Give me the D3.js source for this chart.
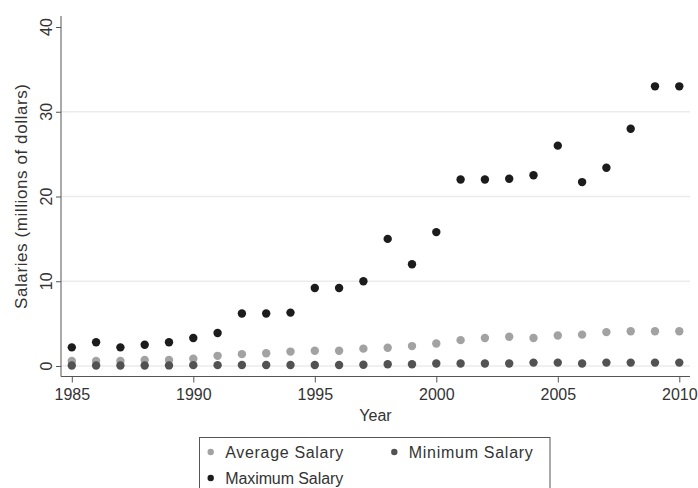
<!DOCTYPE html>
<html>
<head>
<meta charset="utf-8">
<script src="https://cdn.jsdelivr.net/npm/d3@7"></script>
<style>
  html, body { margin: 0; padding: 0; background: #fff; }
  svg { display: block; font-family: "Liberation Sans", Arial, sans-serif; }
</style>
</head>
<body>
<svg id="chart" width="698" height="488"></svg>
<script>
// Player salaries by season, millions of dollars
const years = d3.range(1985, 2011);
const avgSalary = [0.6, 0.6, 0.6, 0.7, 0.7, 0.85, 1.2, 1.4, 1.5, 1.7, 1.8, 1.8, 2.05,
                   2.15, 2.35, 2.65, 3.05, 3.3, 3.45, 3.3, 3.6, 3.7, 4.0, 4.1, 4.1, 4.1];
const minSalary = [0.06, 0.06, 0.06, 0.06, 0.07, 0.1, 0.1, 0.11, 0.11, 0.11, 0.11, 0.11, 0.15,
                   0.2, 0.2, 0.3, 0.3, 0.3, 0.3, 0.4, 0.4, 0.3, 0.4, 0.4, 0.4, 0.4];
const maxSalary = [2.2, 2.8, 2.2, 2.5, 2.8, 3.3, 3.9, 6.2, 6.2, 6.3, 9.2, 9.2, 10.0,
                   15.0, 12.0, 15.8, 22.0, 22.0, 22.1, 22.5, 26.0, 21.7, 23.4, 28.0, 33.0, 33.0];
const xTicks = [1985, 1990, 1995, 2000, 2005, 2010];
const yTicks = [0, 10, 20, 30, 40];
const yGrid = [0, 10, 20, 30];

const series = [
  { name: "Average Salary", values: avgSalary, color: "#a2a2a2" },
  { name: "Minimum Salary", values: minSalary, color: "#525252" },
  { name: "Maximum Salary", values: maxSalary, color: "#1c1c1c" }
];

const svg = d3.select("#chart");
const textColor = "#333";
const axisColor = "#555";

const x = d3.scaleLinear().domain([1985, 2010]).range([71.8, 679.3]);
const y = d3.scaleLinear().domain([0, 40]).range([366, 27]);

const axisX0 = 61, axisX1 = 690, axisYTop = 16, axisYBottom = 376.5;

// horizontal grid
svg.append("g").selectAll("line").data(yGrid).join("line")
  .attr("x1", axisX0).attr("x2", axisX1)
  .attr("y1", d => y(d)).attr("y2", d => y(d))
  .attr("stroke", "#ebebeb").attr("stroke-width", 1.5);

// y axis
const yAxis = svg.append("g").attr("transform", `translate(${axisX0},0)`)
  .call(d3.axisLeft(y).tickValues(yTicks).tickSize(5).tickFormat(d3.format("d")));
yAxis.select(".domain").remove();
yAxis.selectAll(".tick line").attr("stroke", axisColor);
yAxis.selectAll(".tick text").remove();
yAxis.append("line").attr("x1", 0).attr("x2", 0)
  .attr("y1", axisYTop).attr("y2", axisYBottom).attr("stroke", axisColor);
svg.append("g").selectAll("text").data(yTicks).join("text")
  .attr("transform", d => `translate(52,${y(d)}) rotate(-90)`)
  .attr("text-anchor", "middle")
  .attr("font-size", 16).attr("fill", textColor)
  .text(d => d);

// x axis
const xAxis = svg.append("g").attr("transform", `translate(0,${axisYBottom})`)
  .call(d3.axisBottom(x).tickValues(xTicks).tickSize(6).tickFormat(d3.format("d")));
xAxis.select(".domain").remove();
xAxis.selectAll(".tick line").attr("stroke", axisColor);
xAxis.selectAll(".tick text").attr("font-size", 16).attr("fill", textColor)
  .attr("y", 12).attr("dy", "0.71em").attr("font-family", null);
xAxis.append("line").attr("x1", axisX0).attr("x2", axisX1)
  .attr("y1", 0).attr("y2", 0).attr("stroke", axisColor);

// axis titles
svg.append("text").attr("x", (axisX0 + axisX1) / 2).attr("y", 421)
  .attr("text-anchor", "middle").attr("font-size", 16).attr("fill", textColor)
  .text("Year");
svg.append("text")
  .attr("transform", `translate(27,${(y(0) + y(40)) / 2}) rotate(-90)`)
  .attr("text-anchor", "middle").attr("font-size", 17).attr("fill", textColor)
  .attr("textLength", 225).attr("lengthAdjust", "spacing")
  .text("Salaries (millions of dollars)");

// points
series.forEach(s => {
  svg.append("g").selectAll("circle").data(years).join("circle")
    .attr("cx", (d, i) => x(d))
    .attr("cy", (d, i) => y(s.values[i]))
    .attr("r", 4.2)
    .attr("fill", s.color);
});

// legend
const legend = svg.append("g");
legend.append("rect").attr("x", 199.5).attr("y", 437.5)
  .attr("width", 350.5).attr("height", 80)
  .attr("fill", "#fff").attr("stroke", axisColor);
const legendPos = [
  { cx: 210.7, cy: 452 },
  { cx: 394.3, cy: 452 },
  { cx: 210.7, cy: 478 }
];
const legendItems = legend.selectAll("g.item").data(series).join("g").attr("class", "item");
legendItems.append("circle")
  .attr("cx", (d, i) => legendPos[i].cx).attr("cy", (d, i) => legendPos[i].cy)
  .attr("r", 3.2).attr("fill", d => d.color);
legendItems.append("text")
  .attr("x", (d, i) => legendPos[i].cx + 14.5).attr("y", (d, i) => legendPos[i].cy + 6)
  .attr("font-size", 16).attr("fill", textColor)
  .attr("textLength", (d, i) => i === 1 ? 124 : 118).attr("lengthAdjust", "spacing")
  .text(d => d.name);
</script>
</body>
</html>
